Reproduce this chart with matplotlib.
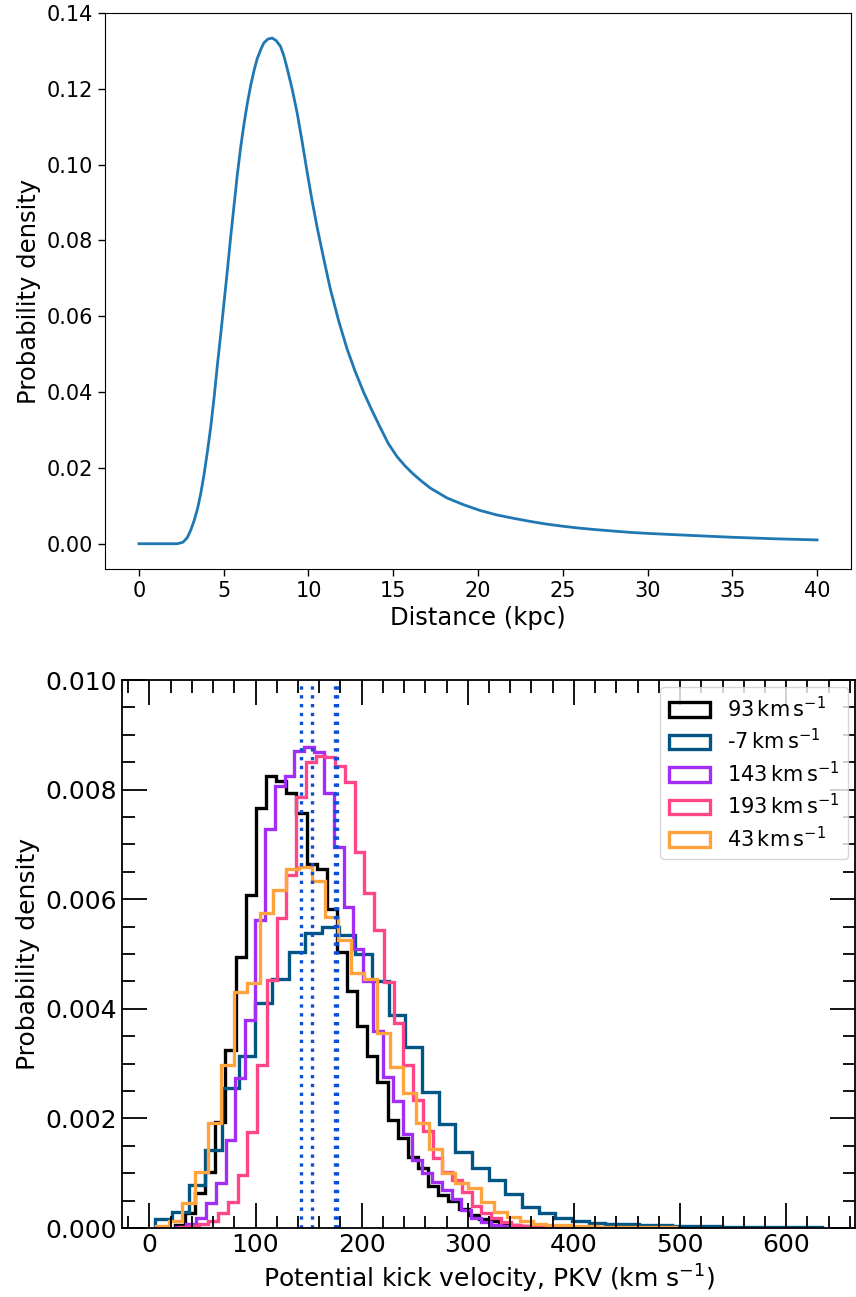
import numpy as np
import matplotlib
matplotlib.use("Agg")
import matplotlib.pyplot as plt
from matplotlib.patches import Patch
from matplotlib.ticker import MultipleLocator, FormatStrFormatter

# ---- distance prior (upper panel) ----
dist_kpc = [0, 1.0, 2.0, 2.27, 2.6, 2.85, 3.06, 3.25, 3.45, 3.65, 3.84, 4.04,
            4.24, 4.44, 4.63, 4.83, 5.02, 5.22, 5.41, 5.61, 5.80, 6.00, 6.20,
            6.40, 6.59, 6.79, 6.98, 7.20, 7.37, 7.60, 7.86, 8.10, 8.35, 8.55,
            8.75, 9.05, 9.34, 9.63, 9.92, 10.21, 10.51, 10.9, 11.29, 11.8,
            12.27, 12.75, 13.25, 13.7, 14.24, 14.7, 15.22, 15.7, 16.2, 16.7,
            17.18, 18.16, 19.14, 20.1, 21.1, 22.1, 23.06, 24.0, 25.02, 26.0,
            26.98, 28.94, 30.1, 32.5, 35.0, 37.5, 40.0]
dist_pdf = [0, 0, 0, 0.0000, 0.0004, 0.0016, 0.0036, 0.0060, 0.0091, 0.0133,
            0.0182, 0.0243, 0.0309, 0.0388, 0.0472, 0.0554, 0.0636, 0.0722,
            0.0808, 0.0892, 0.0972, 0.1045, 0.1108, 0.1163, 0.1208, 0.1248,
            0.1280, 0.1305, 0.1321, 0.1331, 0.1334, 0.1327, 0.1312, 0.1287,
            0.1253, 0.1197, 0.1135, 0.1060, 0.0981, 0.0906, 0.0835, 0.0752,
            0.0672, 0.0585, 0.0515, 0.0455, 0.0400, 0.0356, 0.0306, 0.0265,
            0.0230, 0.0205, 0.0183, 0.0164, 0.0147, 0.0121, 0.0103, 0.0088,
            0.0076, 0.0067, 0.0059, 0.0052, 0.0046, 0.0041, 0.0037, 0.0030,
            0.0027, 0.0022, 0.0017, 0.0013, 0.0010]

# ---- PKV histograms (lower panel): first edge, bin width, densities ----
labels = ["93", "-7", "143", "193", "43"]
colors = ["#000000", "#005585", "#a22ef5", "#ff4689", "#ffa33f"]
first_edge = [23.9, 5.6, 25.5, 28.0, 6.1]
bin_width = [9.55, 15.7, 9.26, 9.19, 12.25]

dens_93 = [0.00006, 0.00027, 0.00063, 0.00103, 0.00194, 0.00325, 0.00495,
           0.00608, 0.00766, 0.00824, 0.00815, 0.00793, 0.00757, 0.00664,
           0.00656, 0.00583, 0.00504, 0.00432, 0.00368, 0.00313, 0.00267,
           0.00197, 0.00164, 0.00130, 0.00110, 0.00077, 0.00060, 0.00050,
           0.00035, 0.00023, 0.00017, 0.00012, 0.00008, 0.00006, 0.00004,
           0.00003, 0.00002, 0.00001, 0.00001, 0.00001]
dens_m7 = [0.00016, 0.00030, 0.00078, 0.00142, 0.00255, 0.00314, 0.00410,
           0.00455, 0.00504, 0.00538, 0.00550, 0.00535, 0.00500, 0.00450,
           0.00389, 0.00331, 0.00248, 0.00190, 0.00139, 0.00109, 0.00088,
           0.00062, 0.00039, 0.00027, 0.00018, 0.00013, 0.00009, 0.00007,
           0.00007, 0.00006, 0.00005, 0.00004, 0.00003, 0.00003, 0.00002,
           0.00002, 0.00002, 0.00001, 0.00001, 0.00001]
dens_143 = [0.00002, 0.00008, 0.00019, 0.00045, 0.00082, 0.00161, 0.00273,
            0.00380, 0.00562, 0.00729, 0.00807, 0.00824, 0.00870, 0.00878,
            0.00869, 0.00793, 0.00696, 0.00586, 0.00510, 0.00450, 0.00360,
            0.00276, 0.00232, 0.00172, 0.00124, 0.00100, 0.00084, 0.00070,
            0.00053, 0.00033, 0.00019, 0.00011, 0.00006, 0.00004, 0.00002,
            0.00001, 0.00001, 0.00001, 0.00001, 0.00001]
dens_193 = [0.00002, 0.00004, 0.00008, 0.00012, 0.00027, 0.00048, 0.00097,
            0.00176, 0.00297, 0.00453, 0.00565, 0.00644, 0.00787, 0.00851,
            0.00861, 0.00859, 0.00843, 0.00814, 0.00687, 0.00611, 0.00544,
            0.00449, 0.00374, 0.00297, 0.00234, 0.00177, 0.00128, 0.00103,
            0.00088, 0.00066, 0.00040, 0.00027, 0.00018, 0.00011, 0.00006,
            0.00004, 0.00003, 0.00002, 0.00001, 0.00001]
dens_43 = [0.00004, 0.00012, 0.00045, 0.00103, 0.00191, 0.00297, 0.00431,
           0.00447, 0.00574, 0.00616, 0.00655, 0.00658, 0.00633, 0.00568,
           0.00526, 0.00466, 0.00455, 0.00356, 0.00294, 0.00246, 0.00191,
           0.00145, 0.00101, 0.00082, 0.00073, 0.00047, 0.00030, 0.00020,
           0.00013, 0.00008, 0.00006, 0.00005, 0.00004, 0.00003, 0.00002,
           0.00002, 0.00001, 0.00001, 0.00001, 0.00001]
densities = [dens_93, dens_m7, dens_143, dens_193, dens_43]

# reference velocities marked with dotted lines
ref_velocities = [142.7, 153.6, 174.6, 176.6]

W, H = 856, 1297
fig = plt.figure(figsize=(W / 100, H / 100), dpi=100)

# ---------------- upper panel ----------------
ax1 = fig.add_axes([105 / W, 1 - 569 / H, (851 - 105) / W, (569 - 13) / H])
ax1.plot(dist_kpc, dist_pdf, color="#1f77b4", lw=2.0)
ax1.set_xlim(-2, 42)
ax1.set_ylim(-0.00667, 0.14)
ax1.xaxis.set_major_locator(MultipleLocator(5))
ax1.yaxis.set_major_locator(MultipleLocator(0.02))
ax1.yaxis.set_major_formatter(FormatStrFormatter("%.2f"))
ax1.tick_params(labelsize=15, length=5, width=1.0)
ax1.set_xlabel("Distance (kpc)", fontsize=17.5)
ax1.set_ylabel("Probability density", fontsize=17.5)

# ---------------- lower panel ----------------
ax2 = fig.add_axes([122 / W, 1 - 1228 / H, (855 - 122) / W, (1228 - 680) / H])
handles = []
for lab, col, e0, bw, d in zip(labels, colors, first_edge, bin_width, densities):
    edges = e0 + bw * np.arange(len(d) + 1)
    ax2.stairs(d, edges, baseline=0, fill=False, color=col, lw=2.4)
    handles.append(Patch(facecolor="none", edgecolor=col, lw=2.4,
                         label=lab + r"$\,\mathrm{km\,s^{-1}}$"))
for v in ref_velocities:
    ax2.axvline(v, color="#0a4fd8", ls=":", lw=2.4)

ax2.set_xlim(-25.8, 664.8)
ax2.set_ylim(0, 0.010)
ax2.xaxis.set_major_locator(MultipleLocator(100))
ax2.xaxis.set_minor_locator(MultipleLocator(20))
ax2.yaxis.set_major_locator(MultipleLocator(0.002))
ax2.yaxis.set_minor_locator(MultipleLocator(0.0005))
ax2.yaxis.set_major_formatter(FormatStrFormatter("%.3f"))
ax2.tick_params(which="both", direction="in", top=True, right=True, width=1.3)
ax2.tick_params(which="major", length=18, labelsize=18)
ax2.tick_params(which="minor", length=9)
for sp in ax2.spines.values():
    sp.set_linewidth(1.3)
ax2.set_xlabel(r"Potential kick velocity, PKV (km s$^{-1}$)", fontsize=18)
ax2.set_ylabel("Probability density", fontsize=18)
ax2.legend(handles=handles, loc="upper right", fontsize=15,
           borderaxespad=0.35, labelspacing=0.35)

fig.savefig("out.png", dpi=100)
